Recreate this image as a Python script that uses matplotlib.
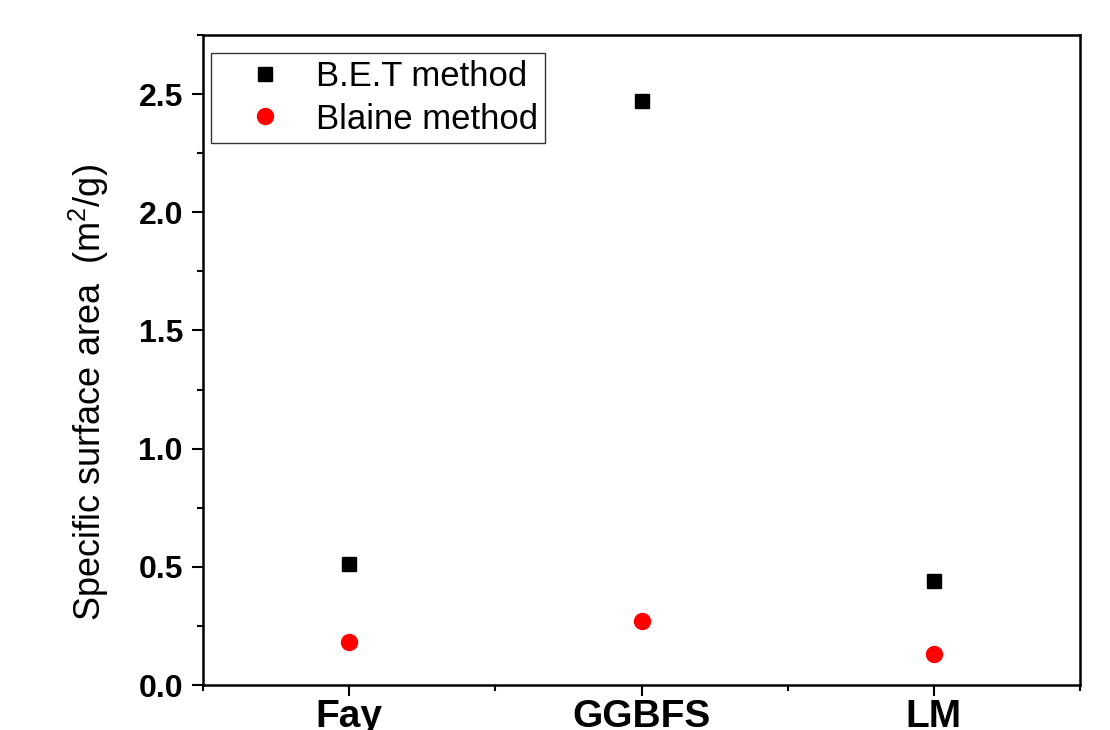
import numpy as np
import matplotlib.pyplot as plt
from matplotlib.ticker import MultipleLocator

plt.rcParams['font.family'] = ['Liberation Sans', 'DejaVu Sans']
plt.rcParams['mathtext.default'] = 'regular'

# data
materials = ['Fay', 'GGBFS', 'LM']
bet = [0.51, 2.47, 0.44]       # B.E.T method
blaine = [0.18, 0.27, 0.13]    # Blaine method

x = np.arange(1, len(materials) + 1)

fig = plt.figure(figsize=(11.1, 7.3), dpi=100)
ax = fig.add_axes([0.183, 0.0616, 0.79, 0.8904])

ax.plot(x, bet, linestyle='none', marker='s', markersize=10, color='black', label='B.E.T method')
ax.plot(x, blaine, linestyle='none', marker='o', markersize=11.5, color='red', label='Blaine method')

ax.set_xlim(0.5, 3.5)
ax.set_ylim(0, 2.75)

ax.set_xticks(x)
ax.set_xticklabels(materials, fontsize=28, fontweight='bold')
ax.xaxis.set_minor_locator(MultipleLocator(0.5))
ax.yaxis.set_major_locator(MultipleLocator(0.5))
ax.yaxis.set_minor_locator(MultipleLocator(0.25))
ax.yaxis.set_major_formatter(plt.FormatStrFormatter('%.1f'))
for lab in ax.get_yticklabels():
    lab.set_fontsize(23)
    lab.set_fontweight('bold')

ax.tick_params(which='major', direction='out', length=8, width=1.5)
ax.tick_params(which='minor', direction='out', length=4.5, width=1.5)
ax.tick_params(axis='y', which='major', pad=6.5)
ax.tick_params(axis='x', which='major', pad=2)

for s in ax.spines.values():
    s.set_linewidth(1.8)

ax.set_ylabel('Specific surface area  (m$^{2}$/g)', fontsize=26, labelpad=20)
ax.yaxis.label.set_y(0.45)

leg = ax.legend(loc='upper left', fontsize=25, frameon=True, fancybox=False,
                edgecolor='black', borderaxespad=0.0, bbox_to_anchor=(0.009, 0.972),
                handlelength=2.7, handletextpad=0.12, borderpad=0.2, labelspacing=0.27)
leg.get_frame().set_linewidth(1.0)

plt.savefig('out.png', dpi=100)
